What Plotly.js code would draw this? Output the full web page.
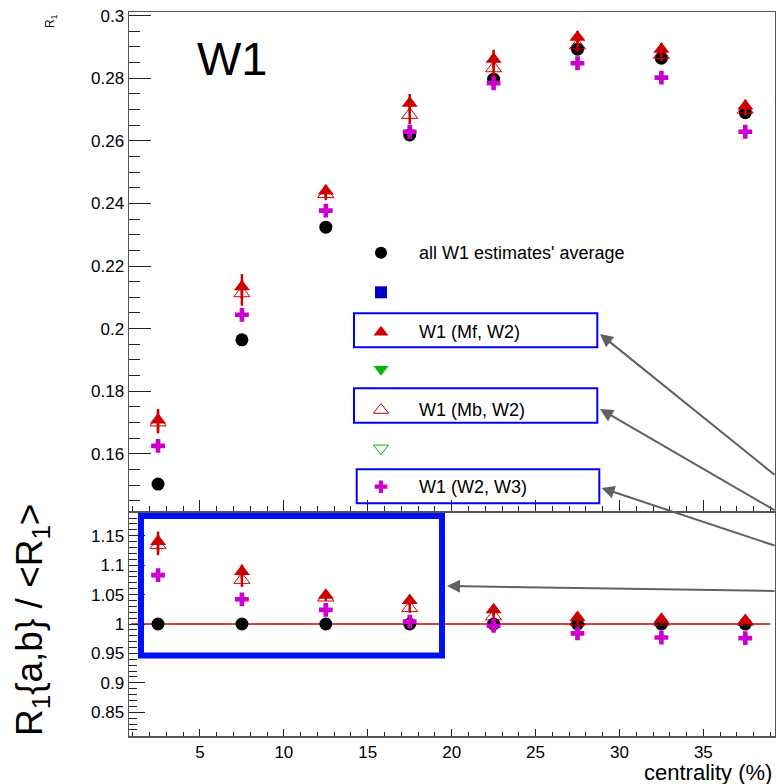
<!DOCTYPE html>
<html>
<head>
<meta charset="utf-8">
<script src="https://cdn.plot.ly/plotly-3.0.1.min.js"></script>
<style>html,body{margin:0;padding:0;background:#fff;}#chart{width:776px;height:784px;}</style>
</head>
<body>
<div id="chart"></div>
<script>
// ---------------- data ----------------
const centrality = [2.5, 7.5, 12.5, 17.5, 22.5, 27.5, 32.5, 37.5];

const avgR1   = [0.1503, 0.1964, 0.2324, 0.2619, 0.2797, 0.2893, 0.2864, 0.2690];
const mfW2R1  = [0.1708, 0.2134, 0.2440, 0.2720, 0.2861, 0.2931, 0.2893, 0.2711];
const mfW2Err = [0.0035, 0.0040, 0.0020, 0.0030, 0.0030, 0.0020, 0.0020, 0.0020];
const mbW2R1  = [0.1700, 0.2113, 0.2430, 0.2683, 0.2832, 0.2905, 0.2875, 0.2700];
const mbW2Err = [0.0035, 0.0040, 0.0020, 0.0030, 0.0030, 0.0020, 0.0020, 0.0020];
const w2w3R1  = [0.1625, 0.2044, 0.2377, 0.2629, 0.2784, 0.2848, 0.2802, 0.2629];

const avgRatio   = [1, 1, 1, 1, 1, 1, 1, 1];
const mfRatio    = [1.140, 1.089, 1.049, 1.040, 1.024, 1.011, 1.008, 1.006];
const mfRatioErr = [0.017, 0.012, 0.006, 0.008, 0.008, 0.005, 0.004, 0.004];
const mbRatio    = [1.134, 1.075, 1.045, 1.027, 1.013, 1.004, 1.004, 1.004];
const mbRatioErr = [0.017, 0.012, 0.006, 0.008, 0.008, 0.005, 0.004, 0.004];
const w2w3Ratio  = [1.083, 1.042, 1.024, 1.004, 0.997, 0.984, 0.977, 0.976];

const refLineX = [0.9, 39.0];
const refLineY = [1, 1];

const topTickVals = [0.16, 0.18, 0.2, 0.22, 0.24, 0.26, 0.28, 0.3];
const topTickText = ['0.16', '0.18', '0.2', '0.22', '0.24', '0.26', '0.28', '0.3'];
const botTickVals = [0.85, 0.9, 0.95, 1, 1.05, 1.1, 1.15];
const botTickText = ['0.85', '0.9', '0.95', '1', '1.05', '1.1', '1.15'];
const xTickVals = [5, 10, 15, 20, 25, 30, 35];
const xTickText = ['5', '10', '15', '20', '25', '30', '35'];

const legendLabels = ["all W1 estimates' average", '', 'W1 (Mf, W2)', '', 'W1 (Mb, W2)', '', 'W1 (W2, W3)'];

// ---------------- styles ----------------
const FONT = 'Liberation Sans, Arial, Helvetica, sans-serif';
const RED = '#cc0000', MAG = '#cc00cc', BLK = '#000000', BLUE = '#0000cc', GREEN = '#00bb00';
const L = 129, R = 775, T = 12, B = 736;
const PX = x => (x - L) / (R - L);
const PY = y => (B - y) / (B - T);

const circ = {symbol: 'circle', size: 13, color: BLK};
const triF = {symbol: 'triangle-up', size: 14, color: RED};
const triO = {symbol: 'triangle-up-open', size: 14, color: RED, line: {width: 1, color: RED}};
const crs  = {symbol: 'cross', size: 11.5, color: MAG};

function pts(x, y, xa, ya, marker, err) {
  const t = {x: x, y: y, xaxis: xa, yaxis: ya, type: 'scatter', mode: 'markers',
             marker: marker, showlegend: false, cliponaxis: false, hoverinfo: 'skip'};
  if (err) t.error_y = {type: 'data', array: err, visible: true, color: RED, thickness: 2.5, width: 0};
  return t;
}

const traces = [
  pts(centrality, avgR1, 'x', 'y', circ),
  pts(centrality, mfW2R1, 'x', 'y', triF, mfW2Err),
  pts(centrality, mbW2R1, 'x', 'y', triO, mbW2Err),
  pts(centrality, w2w3R1, 'x', 'y', crs),
  {x: refLineX, y: refLineY, xaxis: 'x2', yaxis: 'y2', type: 'scatter', mode: 'lines',
   line: {color: RED, width: 1.5}, showlegend: false, hoverinfo: 'skip'},
  pts(centrality, avgRatio, 'x2', 'y2', circ),
  pts(centrality, mfRatio, 'x2', 'y2', triF, mfRatioErr),
  pts(centrality, mbRatio, 'x2', 'y2', triO, mbRatioErr),
  pts(centrality, w2w3Ratio, 'x2', 'y2', crs),
];

// legend markers (pixel-space overlay axes)
const legX = 381;
const legY = [252.7, 292.3, 332.3, 369.3, 410, 448.3, 486.7];
const legMarkers = [
  {symbol: 'circle', size: 12, color: BLK},
  {symbol: 'square', size: 12, color: BLUE},
  {symbol: 'triangle-up', size: 13, color: RED},
  {symbol: 'triangle-down', size: 13, color: GREEN},
  {symbol: 'triangle-up-open', size: 13, color: '#aa0000', line: {width: 1, color: '#aa0000'}},
  {symbol: 'triangle-down-open', size: 13, color: GREEN, line: {width: 1, color: GREEN}},
  {symbol: 'cross', size: 10.5, color: MAG},
];
legMarkers.forEach((m, i) => {
  traces.push({x: [legX], y: [legY[i]], xaxis: 'x3', yaxis: 'y3', type: 'scatter', mode: 'markers',
               marker: m, showlegend: false, cliponaxis: false, hoverinfo: 'skip'});
});

const annotations = [];
legendLabels.forEach((t, i) => {
  if (!t) return;
  annotations.push({xref: 'paper', yref: 'paper', x: PX(417), y: PY(legY[i]), xanchor: 'left', yanchor: 'middle',
                    text: t, showarrow: false, font: {family: FONT, size: 18, color: '#000'}});
});
annotations.push(
  {xref: 'paper', yref: 'paper', x: PX(195), y: PY(58), xanchor: 'left', yanchor: 'middle',
   text: 'W1', showarrow: false, font: {family: FONT, size: 47, color: '#000'}},
  {xref: 'paper', yref: 'paper', x: PX(51), y: PY(21), xanchor: 'center', yanchor: 'middle', textangle: -90,
   text: 'R<sub>1</sub>', showarrow: false, font: {family: FONT, size: 12, color: '#000'}},
  {xref: 'paper', yref: 'paper', x: PX(32), y: PY(620), xanchor: 'center', yanchor: 'middle', textangle: -90,
   text: 'R<sub>1</sub>{a,b} / &lt;R<sub>1</sub>&gt;', showarrow: false, font: {family: FONT, size: 37, color: '#000'}},
  {xref: 'paper', yref: 'paper', x: PX(774), y: PY(758), xanchor: 'right', yanchor: 'top',
   text: 'centrality (%)', showarrow: false, font: {family: FONT, size: 22, color: '#000'}}
);
// arrows
const arrows = [
  [600, 334, 776, 476],
  [600, 409, 776, 511],
  [601.5, 488, 776, 546],
  [447, 586, 776, 591],
];
arrows.forEach(a => {
  annotations.push({xref: 'paper', yref: 'paper', x: PX(a[0]), y: PY(a[1]), ax: a[2] - a[0], ay: a[3] - a[1],
                    axref: 'pixel', ayref: 'pixel', text: '', showarrow: true, arrowhead: 2, arrowsize: 1.3,
                    arrowwidth: 2, arrowcolor: '#606060', standoff: 0});
});

const boxes = [
  [354, 313.3, 597.3, 347.3],
  [354, 388.3, 597.3, 422.7],
  [356.7, 469.3, 599.3, 503.3],
];
const shapes = boxes.map(b => ({type: 'rect', xref: 'paper', yref: 'paper', x0: PX(b[0]), x1: PX(b[2]),
                                y0: PY(b[1]), y1: PY(b[3]), line: {color: '#0000ff', width: 2}}));
shapes.push({type: 'rect', xref: 'paper', yref: 'paper', x0: PX(141), x1: PX(442), y0: PY(516), y1: PY(655.5),
             line: {color: '#0010f0', width: 6}});

const axLine = '#555555';
const tickC = '#222222';
const splitTop = PY(511.5);

const layout = {
  width: 776, height: 784,
  margin: {l: L, r: 776 - R, t: T, b: 784 - B, pad: 0},
  paper_bgcolor: '#ffffff', plot_bgcolor: 'rgba(0,0,0,0)',
  font: {family: FONT, size: 17, color: '#000'},
  showlegend: false,
  xaxis: {domain: [0, 1], anchor: 'y', range: [0.77, 39.27], showticklabels: false,
          tickmode: 'array', tickvals: xTickVals, ticks: 'inside', ticklen: 12, tickcolor: tickC, tickwidth: 1,
          minor: {dtick: 1, tick0: 0, ticks: 'inside', ticklen: 6, tickcolor: tickC},
          showgrid: false, zeroline: false, showline: true, linecolor: axLine, linewidth: 1.5, mirror: true},
  yaxis: {domain: [splitTop, 1], anchor: 'x', range: [0.14154, 0.30118],
          tickmode: 'array', tickvals: topTickVals, ticktext: topTickText,
          ticks: 'inside', ticklen: 22, tickcolor: tickC, tickwidth: 1,
          minor: {dtick: 0.005, tick0: 0, ticks: 'inside', ticklen: 11, tickcolor: tickC},
          tickfont: {family: FONT, size: 17, color: '#000'},
          showgrid: false, zeroline: false, showline: true, linecolor: axLine, linewidth: 1.5, mirror: true},
  xaxis2: {domain: [0, 1], anchor: 'y2', range: [0.77, 39.27],
           tickmode: 'array', tickvals: xTickVals, ticktext: xTickText,
           ticks: 'inside', ticklen: 7, tickcolor: tickC, tickwidth: 1,
           minor: {dtick: 1, tick0: 0, ticks: 'inside', ticklen: 4, tickcolor: tickC},
           tickfont: {family: FONT, size: 17, color: '#000'},
           showgrid: false, zeroline: false, showline: true, linecolor: axLine, linewidth: 1.5, mirror: true},
  yaxis2: {domain: [0, PY(512)], anchor: 'x2', range: [0.8097, 1.1903],
           tickmode: 'array', tickvals: botTickVals, ticktext: botTickText,
           ticks: 'inside', ticklen: 16, tickcolor: tickC, tickwidth: 1,
           minor: {dtick: 0.01, tick0: 0, ticks: 'inside', ticklen: 8, tickcolor: tickC},
           tickfont: {family: FONT, size: 17, color: '#000'},
           showgrid: false, zeroline: false, showline: true, linecolor: axLine, linewidth: 1.5, mirror: true},
  xaxis3: {domain: [0, 1], anchor: 'y3', range: [L, R], visible: false, fixedrange: true},
  yaxis3: {domain: [0, 1], anchor: 'x3', range: [B, T], visible: false, fixedrange: true},
  annotations: annotations,
  shapes: shapes,
};

Plotly.newPlot('chart', traces, layout, {displayModeBar: false, staticPlot: true});
</script>
</body>
</html>
